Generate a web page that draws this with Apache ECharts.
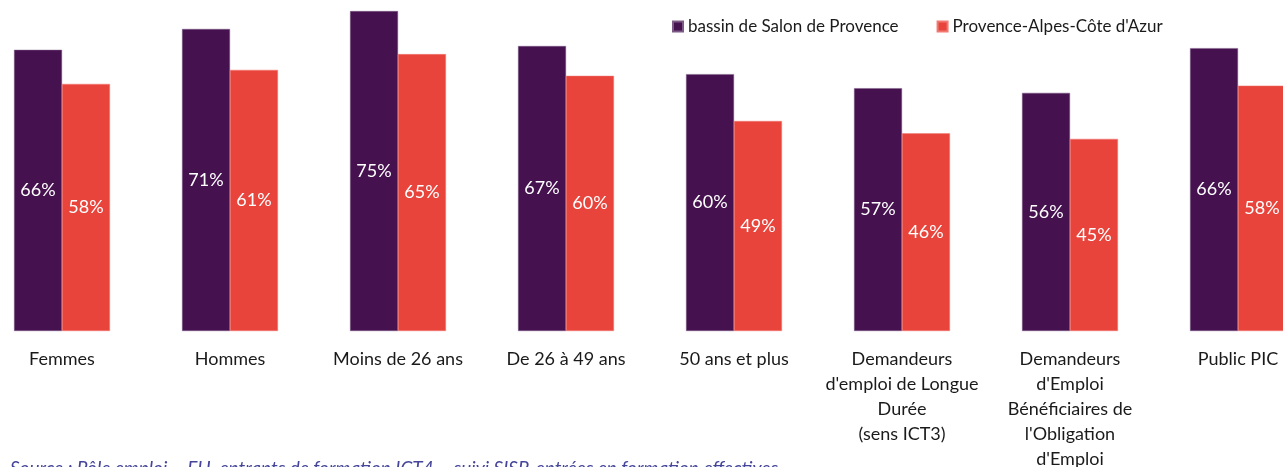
<!DOCTYPE html>
<html>
<head>
<meta charset="utf-8">
<script src="https://cdn.jsdelivr.net/npm/echarts@6/dist/echarts.min.js"></script>
<style>
  html, body { margin: 0; padding: 0; overflow: hidden; background: #fff; }
  .chart { position: absolute; left: -22px; top: 0; width: 1344px; height: 467px; }
</style>
</head>
<body>
<div class="chart"></div>
<script>
var categories = [
  'Femmes',
  'Hommes',
  'Moins de 26 ans',
  'De 26 à 49 ans',
  '50 ans et plus',
  "Demandeurs\nd'emploi de Longue\nDurée\n(sens ICT3)",
  "Demandeurs\nd'Emploi\nBénéficiaires de\nl'Obligation\nd'Emploi",
  'Public PIC'
];
var bassin = [66, 70.9, 75.1, 66.9, 60.3, 57.0, 55.9, 66.4];
var paca = [58, 61.3, 65, 59.9, 49.3, 46.4, 45.1, 57.6];
var seriesNames = ['bassin de Salon de Provence', "Provence-Alpes-Côte d'Azur"];
var sourceText = "Source : Pôle emploi – FH, entrants de formation ICT4 – suivi SISP, entrées en formation effectives";

(function() {
  var myChart = echarts.init(document.querySelector(".chart"));
  var font = "Lato, 'Open Sans', sans-serif";
  var barLabel = {
    show: true,
    position: 'inside',
    color: '#fff',
    fontSize: 18,
    fontFamily: font,
    formatter: function (p) { return Math.round(p.value) + '%'; }
  };
  var option = {
    animation: false,
    color: ['#45114f', '#e8443c'],
    textStyle: { fontFamily: font },
    legend: {
      data: seriesNames,
      left: 689,
      top: 13,
      itemWidth: 10,
      itemHeight: 10,
      itemGap: 38,
      icon: 'rect',
      textStyle: { color: '#1a1a1a', fontSize: 17, fontFamily: font }
    },
    grid: {
      left: 0,
      right: 0,
      top: 3,
      bottom: 136,
      outerBoundsMode: 'none'
    },
    xAxis: {
      type: 'category',
      data: categories,
      axisLine: { show: false },
      axisTick: { show: false },
      axisLabel: {
        interval: 0,
        margin: 16,
        color: '#1a1a1a',
        fontSize: 18,
        lineHeight: 25,
        fontFamily: font
      }
    },
    yAxis: {
      type: 'value',
      min: 0,
      max: 77,
      show: false
    },
    graphic: [{
      type: 'text',
      left: 32,
      top: 459,
      style: {
        text: sourceText,
        fill: '#45459a',
        font: "italic 19px Lato, 'Open Sans', sans-serif"
      }
    }],
    series: [
      {
        name: seriesNames[0],
        type: 'bar',
        data: bassin,
        barGap: '0%',
        barCategoryGap: '42.9%',
        itemStyle: { borderColor: '#7d5a86', borderWidth: 0.5 },
        label: barLabel
      },
      {
        name: seriesNames[1],
        type: 'bar',
        data: paca,
        itemStyle: { borderColor: '#f07a72', borderWidth: 0.5 },
        label: barLabel
      }
    ]
  };
  myChart.setOption(option);
  window.addEventListener("resize", function() {
    myChart.resize();
  });
})();
</script>
</body>
</html>
